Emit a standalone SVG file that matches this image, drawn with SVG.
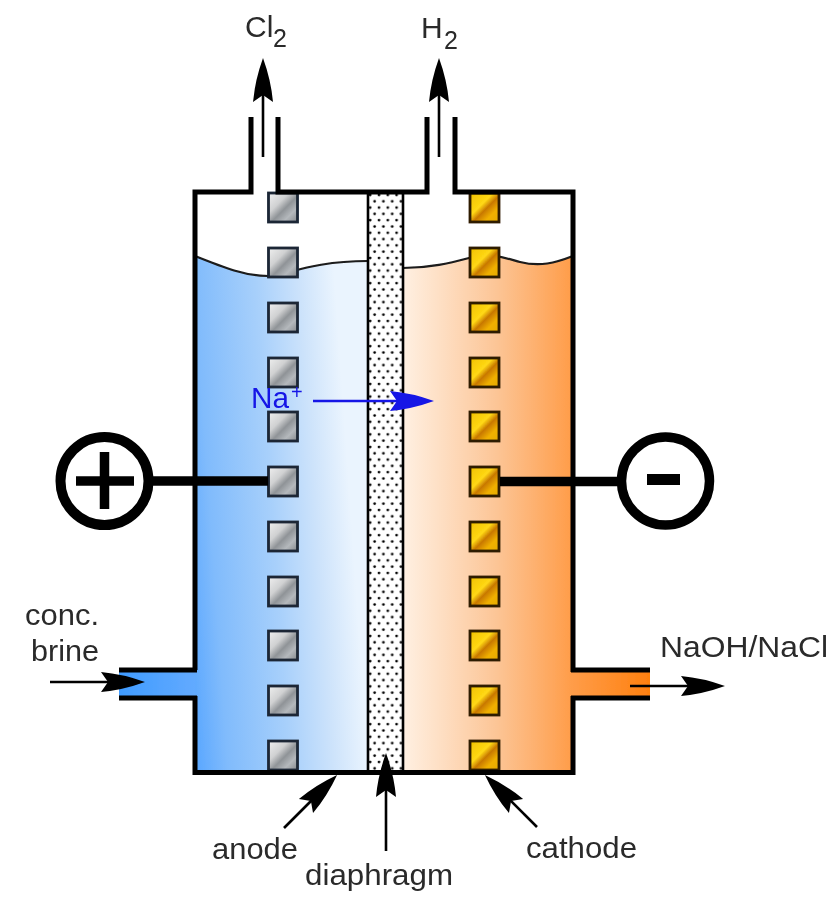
<svg xmlns="http://www.w3.org/2000/svg" width="836" height="897" viewBox="0 0 836 897">
<style>
text{font-family:"Liberation Sans",Arial,sans-serif;font-size:30px;fill:#2a2a2a}
.sub{font-size:25px}
.wall{fill:none;stroke:#000;stroke-width:5;stroke-linecap:butt;stroke-linejoin:miter}
.surf{fill:none;stroke:#1a1a1a;stroke-width:2.2}
.an{fill:url(#silver);stroke:#1a2535;stroke-width:2.8}
.ca{fill:url(#gold);stroke:#2e1a00;stroke-width:2.8}
.arrow{fill:none;stroke:#000;stroke-width:2.6;marker-end:url(#head)}
.lead{fill:none;stroke:#000;stroke-width:9.5}
.ring{fill:#fff;stroke:#000;stroke-width:10}
.sign{fill:none;stroke:#000;stroke-width:9.5}
</style>
<defs>
<linearGradient id="blue" gradientUnits="userSpaceOnUse" x1="195" y1="772" x2="368" y2="760"><stop offset="0" stop-color="#58a6ff"/><stop offset="0.19" stop-color="#80bbfc"/><stop offset="0.55" stop-color="#a8d0fb"/><stop offset="0.8" stop-color="#cde3fb"/><stop offset="1" stop-color="#eaf4fe"/></linearGradient>
<linearGradient id="orange" gradientUnits="userSpaceOnUse" x1="403" y1="0" x2="573" y2="0"><stop offset="0" stop-color="#fff0e2"/><stop offset="0.55" stop-color="#fcc596"/><stop offset="1" stop-color="#ff9c48"/></linearGradient>
<linearGradient id="inB" gradientUnits="userSpaceOnUse" x1="119" y1="0" x2="195" y2="0"><stop offset="0" stop-color="#3f9bff"/><stop offset="1" stop-color="#62aaff"/></linearGradient>
<linearGradient id="outO" gradientUnits="userSpaceOnUse" x1="573" y1="0" x2="650" y2="0"><stop offset="0" stop-color="#ff9c48"/><stop offset="1" stop-color="#ff800f"/></linearGradient>
<linearGradient id="silver" x1="0" y1="0" x2="1" y2="1"><stop offset="0" stop-color="#f0f0f0"/><stop offset="0.35" stop-color="#d0d1d2"/><stop offset="0.55" stop-color="#8f9397"/><stop offset="0.75" stop-color="#b4b8bc"/><stop offset="1" stop-color="#85898d"/></linearGradient>
<linearGradient id="gold" x1="0" y1="0" x2="1" y2="1"><stop offset="0" stop-color="#f0c000"/><stop offset="0.4" stop-color="#ffd814"/><stop offset="0.55" stop-color="#c87800"/><stop offset="0.75" stop-color="#f0b000"/><stop offset="1" stop-color="#e6ac00"/></linearGradient>
<pattern id="dots" width="8.800" height="12.600" patternUnits="userSpaceOnUse" x="368" y="192"><rect width="8.800" height="12.600" fill="#fff"/><circle cx="2.200" cy="3" r="1.350" fill="#000"/><circle cx="6.600" cy="9.300" r="1.350" fill="#000"/></pattern>
<marker id="head" markerUnits="userSpaceOnUse" markerWidth="46" markerHeight="22" refX="34" refY="11" orient="auto"><path d="M0,1 Q22,3 44,11 Q22,19 0,21 L7,11 Z" fill="#000"/></marker>
<marker id="headBlue" markerUnits="userSpaceOnUse" markerWidth="46" markerHeight="22" refX="34" refY="11" orient="auto"><path d="M0,1 Q22,3 44,11 Q22,19 0,21 L7,11 Z" fill="#1414e6"/></marker>
<filter id="soft" x="0" y="0" width="1" height="1" filterUnits="objectBoundingBox"><feGaussianBlur stdDeviation="0.65"/></filter>
</defs>
<rect width="836" height="897" fill="#fff"/>
<g filter="url(#soft)">
<g id="cell">
<rect x="119" y="670" width="78" height="28" fill="url(#inB)"/>
<rect x="571" y="670" width="79" height="28" fill="url(#outO)"/>
<path d="M195,256 C225,268 245,276 268,276 C285,276 310,261 368,261 V772 H195 Z" fill="url(#blue)"/>
<path d="M403,268 C430,268 450,263 469,258 C490,252 505,258 520,262 C540,267 555,263 573,256 V772 H403 Z" fill="url(#orange)"/>
<path class="surf" d="M195,256 C225,268 245,276 268,276 C285,276 310,261 368,261"/>
<path class="surf" d="M403,268 C430,268 450,263 469,258 C490,252 505,258 520,262 C540,267 555,263 573,256"/>
</g>
<g id="diaphragm"><rect x="368" y="192" width="35" height="580" fill="url(#dots)" stroke="#000" stroke-width="2.6"/></g>
<g id="anode">
<rect class="an" x="268.500" y="193" width="29" height="29"/>
<rect class="an" x="268.500" y="248" width="29" height="29"/>
<rect class="an" x="268.500" y="303" width="29" height="29"/>
<rect class="an" x="268.500" y="358" width="29" height="29"/>
<rect class="an" x="268.500" y="412" width="29" height="29"/>
<rect class="an" x="268.500" y="467" width="29" height="29"/>
<rect class="an" x="268.500" y="522" width="29" height="29"/>
<rect class="an" x="268.500" y="577" width="29" height="29"/>
<rect class="an" x="268.500" y="631" width="29" height="29"/>
<rect class="an" x="268.500" y="686" width="29" height="29"/>
<rect class="an" x="268.500" y="741" width="29" height="29"/>
</g>
<g id="cathode">
<rect class="ca" x="470" y="193" width="29" height="29"/>
<rect class="ca" x="470" y="248" width="29" height="29"/>
<rect class="ca" x="470" y="303" width="29" height="29"/>
<rect class="ca" x="470" y="358" width="29" height="29"/>
<rect class="ca" x="470" y="412" width="29" height="29"/>
<rect class="ca" x="470" y="467" width="29" height="29"/>
<rect class="ca" x="470" y="522" width="29" height="29"/>
<rect class="ca" x="470" y="577" width="29" height="29"/>
<rect class="ca" x="470" y="631" width="29" height="29"/>
<rect class="ca" x="470" y="686" width="29" height="29"/>
<rect class="ca" x="470" y="741" width="29" height="29"/>
</g>
<g id="vessel"><path class="wall" d="M251,117 V192 H195 V670 M119,670 H197 M119,698 H197 M195,696 V772.500 H573 V696 M571,698 H650 M650,670 H571 M573,672 V192 H455 V117 M427,117 V192 H278 V117"/></g>
<g id="plus"><circle class="ring" cx="104.500" cy="481" r="44"/><path class="sign" d="M76,481 H134 M104.500,452 V509"/></g>
<g id="minus"><circle class="ring" cx="665.500" cy="481" r="44" style="stroke-width:9.500"/><path class="sign" style="stroke-width:11" d="M647,479.500 H680"/></g>
<g id="connectors">
<path class="lead" d="M149,481 H268"/>
<path class="lead" d="M500,481.500 H621"/>
<path class="arrow" d="M263,157 V68"/>
<path class="arrow" d="M439,157 V68"/>
<path class="arrow" d="M50,682 H135"/>
<path class="arrow" d="M630,686 H715"/>
<path class="arrow" d="M386,851 V763"/>
<path class="arrow" d="M284,828 L330,782"/>
<path class="arrow" d="M537,827 L492,782"/>
<path d="M313,401 H424" fill="none" stroke="#1414e6" stroke-width="2.6" marker-end="url(#headBlue)"/>
</g>
<g id="labels">
<text x="245" y="37">Cl<tspan class="sub" x="273" y="47">2</tspan></text>
<text x="421" y="38">H<tspan class="sub" x="444" y="49">2</tspan></text>
<text x="251" y="408" style="fill:#1414e6" textLength="38" lengthAdjust="spacingAndGlyphs">Na</text>
<text x="291" y="399" style="fill:#1414e6;font-size:20px">+</text>
<text x="25" y="625" textLength="74" lengthAdjust="spacingAndGlyphs">conc.</text>
<text x="31" y="661" textLength="68" lengthAdjust="spacingAndGlyphs">brine</text>
<text x="212" y="859" textLength="86" lengthAdjust="spacingAndGlyphs">anode</text>
<text x="305" y="885" textLength="148" lengthAdjust="spacingAndGlyphs">diaphragm</text>
<text x="526" y="858" textLength="111" lengthAdjust="spacingAndGlyphs">cathode</text>
<text x="660" y="657" textLength="168" lengthAdjust="spacingAndGlyphs">NaOH/NaCl</text>
</g>
</g>
</svg>
